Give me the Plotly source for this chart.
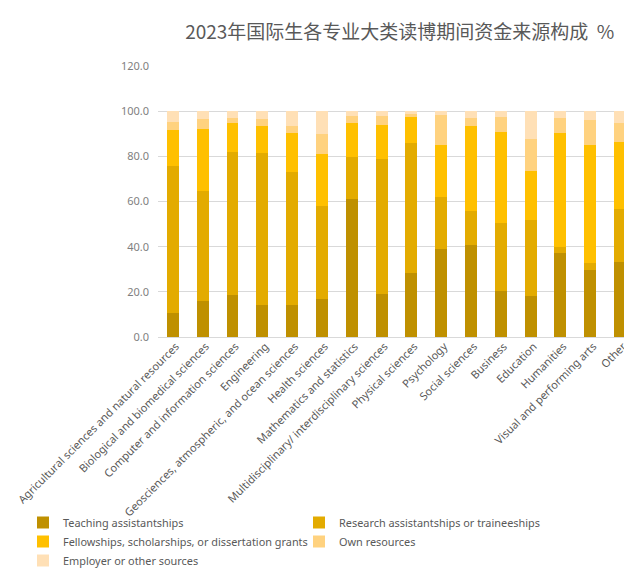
import plotly.graph_objects as go

categories = [
    "Agricultural sciences and natural resources",
    "Biological and biomedical sciences",
    "Computer and information sciences",
    "Engineering",
    "Geosciences, atmospheric, and ocean sciences",
    "Health sciences",
    "Mathematics and statistics",
    "Multidisciplinary/ interdisciplinary sciences",
    "Physical sciences",
    "Psychology",
    "Social sciences",
    "Business",
    "Education",
    "Humanities",
    "Visual and performing arts",
    "Other",
]

teaching = [10.5, 15.8, 18.5, 14.0, 14.0, 16.7, 61.0, 18.9, 28.2, 38.8, 40.6, 20.2, 18.0, 37.1, 29.5, 33.1]
research = [65.1, 48.7, 63.3, 67.4, 59.0, 41.2, 18.6, 59.8, 57.6, 23.1, 15.1, 30.2, 33.7, 2.6, 3.1, 23.5]
fellowship = [16.0, 27.5, 12.9, 12.0, 17.3, 23.0, 15.1, 15.1, 11.5, 23.0, 37.7, 40.3, 21.7, 50.6, 52.3, 29.7]
own = [3.5, 4.5, 2.2, 3.1, 3.1, 8.9, 3.1, 4.0, 1.4, 13.3, 3.5, 6.6, 14.2, 6.6, 11.1, 8.4]
employer = [4.9, 3.5, 3.1, 3.5, 6.6, 10.2, 2.2, 2.2, 1.3, 1.8, 3.1, 2.7, 12.4, 3.1, 4.0, 5.3]

series_names = [
    "Teaching assistantships",
    "Research assistantships or traineeships",
    "Fellowships, scholarships, or dissertation grants",
    "Own resources",
    "Employer or other sources",
]
series_values = [teaching, research, fellowship, own, employer]
series_colors = ["#BF9000", "#E3AB00", "#FFC000", "#FFD27F", "#FFE0B6"]

title_text = "2023年国际生各专业大类读博期间资金来源构成  %"

FONT = "Noto Sans, Noto Sans CJK SC, sans-serif"

# page body adds an 8px margin around the figure
W, H = 624, 571
ML, MR, MT, MB = 150, 0, 58, 242
PW, PH = W - ML - MR, H - MT - MB

fig = go.Figure()
for name, vals, col in zip(series_names, series_values, series_colors):
    fig.add_trace(go.Bar(
        x=categories, y=vals, name=name,
        marker=dict(color=col, line=dict(width=0)),
        width=0.4,
    ))

fig.update_layout(
    barmode="stack",
    width=W, height=H,
    margin=dict(l=ML, r=MR, t=MT, b=MB, autoexpand=False),
    paper_bgcolor="white", plot_bgcolor="white",
    font=dict(family=FONT, size=12, color="#595959"),
    title=dict(
        text=title_text, x=0.51, xanchor="center", xref="paper",
        y=1 - 24 / H, yanchor="middle", yref="container",
        font=dict(family="Noto Sans CJK SC, sans-serif", size=19, color="#595959"),
    ),
    xaxis=dict(
        type="category", range=[-0.5, 15.4], tickangle=-45,
        showgrid=False, showline=False, ticks="", automargin=False,
        tickfont=dict(size=11, color="#595959"),
        ticklabelshift=3,
    ),
    yaxis=dict(
        range=[0, 120], dtick=20, tickformat=".1f",
        showgrid=True, gridcolor="#D9D9D9", gridwidth=1,
        zeroline=True, zerolinecolor="#D9D9D9", zerolinewidth=1,
        ticks="", tickfont=dict(size=11, color="#7F7F7F"),
        ticklabelstandoff=8, automargin=False,
    ),
    legend=dict(
        orientation="h", traceorder="normal",
        x=(15 - ML) / PW, xref="paper", xanchor="left",
        y=-(500 - (MT + PH)) / PH, yref="paper", yanchor="top",
        entrywidth=231, entrywidthmode="pixels",
        itemwidth=30,
        bgcolor="rgba(0,0,0,0)",
        font=dict(size=10.9, color="#595959"),
        tracegroupgap=0,
    ),
    bargap=0.6,
)

fig.write_html("out.html")
